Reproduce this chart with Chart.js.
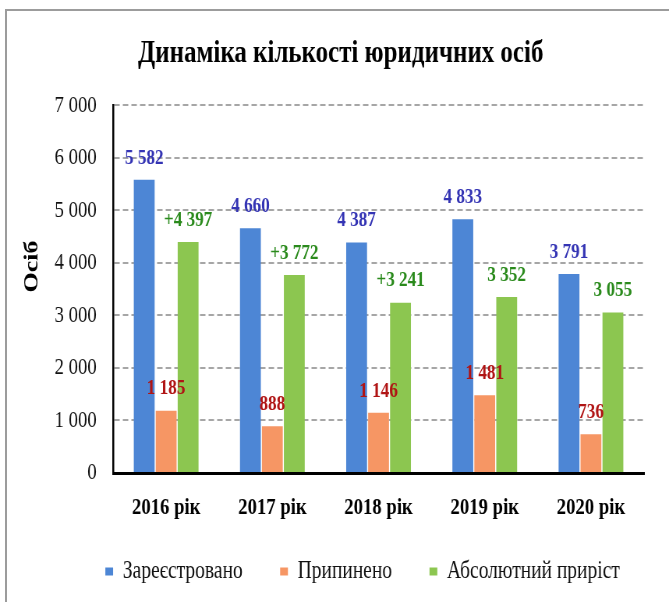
<!DOCTYPE html>
<html>
<head>
<meta charset="utf-8">
<script src="https://cdn.jsdelivr.net/npm/chart.js@4.4.1/dist/chart.umd.min.js"></script>
<style>
  html, body { margin: 0; padding: 0; background: #fff; }
  body { width: 669px; height: 602px; position: relative; overflow: hidden; }
  /* thin grey frame along the top and left edges */
  #frame { position: absolute; left: 5px; top: 9px; right: 0; bottom: 0; border-top: 2px solid #9c9c9c; border-left: 2px solid #9c9c9c; }
  /* the source picture is horizontally squeezed, so draw wide and compress */
  #wrap { position: absolute; left: 0; top: 0; width: 858px; height: 602px; transform: scaleX(0.7797); transform-origin: 0 0; }
  #chart { width: 858px; height: 602px; }
</style>
</head>
<body>
<div id="frame"></div>
<div id="wrap"><canvas id="chart" width="858" height="602"></canvas></div>
<script>
const years = ['2016 рік', '2017 рік', '2018 рік', '2019 рік', '2020 рік'];
const registered = [5582, 4660, 4387, 4833, 3791];
const stopped = [1185, 888, 1146, 1481, 736];
const growth = [4397, 3772, 3241, 3352, 3055];
const growthLabels = ['+4 397', '+3 772', '+3 241', '3 352', '3 055'];
const yTicks = [0, 1000, 2000, 3000, 4000, 5000, 6000, 7000];

const serif = '"Liberation Serif", "Times New Roman", serif';

function fmt(v) {
  return String(v).replace(/\B(?=(\d{3})+(?!\d))/g, ' ');
}

// value labels above each bar
const valueLabels = {
  id: 'valueLabels',
  afterDatasetsDraw(chart) {
    const ctx = chart.ctx;
    ctx.save();
    ctx.font = 'bold 22px ' + serif;
    ctx.textAlign = 'center';
    ctx.textBaseline = 'middle';
    chart.data.datasets.forEach((ds, i) => {
      const meta = chart.getDatasetMeta(i);
      ctx.fillStyle = ds.labelColor;
      meta.data.forEach((bar, j) => {
        ctx.fillText(ds.valueText[j], bar.x, bar.y - 22);
      });
    });
    ctx.restore();
  },
};

// title and legend sit a bit off the canvas centre in the original
const nudge = {
  id: 'nudge',
  afterLayout(chart) {
    chart.titleBlock.left += 24;
    chart.titleBlock.right += 24;
    chart.legend.left += 52;
    chart.legend.right += 52;
    chart.legend.top -= 8;
    chart.legend.bottom -= 8;
  },
};

new Chart(document.getElementById('chart'), {
  type: 'bar',
  data: {
    labels: years,
    datasets: [
      {
        label: 'Зареєстровано',
        data: registered,
        backgroundColor: '#4d86d5',
        labelColor: '#3434b4',
        valueText: registered.map(fmt),
      },
      {
        label: 'Припинено',
        data: stopped,
        backgroundColor: '#f69664',
        labelColor: '#b01414',
        valueText: stopped.map(fmt),
      },
      {
        label: 'Абсолютний приріст',
        data: growth,
        backgroundColor: '#8cc650',
        labelColor: '#2a8a1c',
        valueText: growthLabels,
      },
    ],
  },
  options: {
    responsive: false,
    animation: false,
    categoryPercentage: 0.62,
    barPercentage: 0.95,
    layout: {
      padding: { top: 0, left: 0, right: 32, bottom: 0 },
    },
    scales: {
      x: {
        grid: { display: false, drawTicks: false },
        border: { display: true, color: '#000', width: 3 },
        ticks: {
          padding: 20,
          color: '#000',
          font: { family: serif, size: 24, weight: 'bold' },
        },
        afterFit: (scale) => {
          scale.height = 46;
        },
      },
      y: {
        min: 0,
        max: 7000,
        afterBuildTicks: (scale) => {
          scale.ticks = yTicks.map((v) => ({ value: v }));
        },
        grid: {
          color: '#a6a6a6',
          lineWidth: 2,
          drawTicks: false,
        },
        border: { display: true, color: '#000', width: 2.5, dash: [7, 4] },
        ticks: {
          padding: 21,
          color: '#111',
          font: { family: serif, size: 24 },
          callback: (v) => fmt(v),
        },
        title: {
          display: true,
          // leading spaces lift the word above the axis middle, as in the original
          text: '\u00a0'.repeat(7) + 'Осіб',
          color: '#000',
          padding: { top: 26, bottom: 0 },
          font: { family: serif, size: 26, weight: 'bold' },
        },
        afterFit: (scale) => {
          scale.width = 145;
        },
      },
    },
    plugins: {
      title: {
        display: true,
        text: 'Динаміка кількості юридичних осіб',
        color: '#000',
        padding: { top: 35, bottom: 32 },
        font: { family: serif, size: 32, weight: 'bold' },
      },
      legend: {
        position: 'bottom',
        labels: {
          boxWidth: 10,
          boxHeight: 8,
          padding: 48,
          color: '#111',
          font: { family: serif, size: 25 },
        },
      },
      tooltip: { enabled: false },
    },
  },
  plugins: [valueLabels, nudge],
});
</script>
</body>
</html>
